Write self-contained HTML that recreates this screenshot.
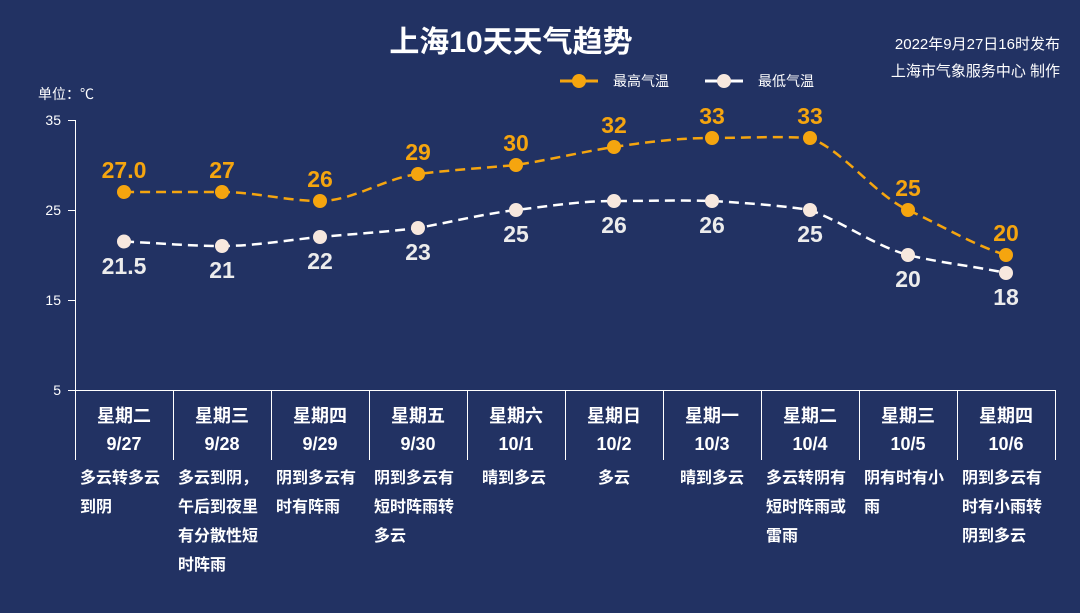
<!DOCTYPE html><html><head><meta charset="utf-8"><style>
body{margin:0;background:#223263;}
svg{display:block;font-family:"Liberation Sans","Noto Sans CJK SC",sans-serif;}
</style></head><body>
<svg width="1080" height="613" viewBox="0 0 1080 613">
<rect width="1080" height="613" fill="#223263"/>
<text x="511" y="52" text-anchor="middle" font-size="30" font-weight="bold" fill="#fff">上海10天天气趋势</text>
<text x="1060" y="49" text-anchor="end" font-size="15" fill="#fff">2022年9月27日16时发布</text>
<text x="1060" y="76" text-anchor="end" font-size="15" fill="#fff">上海市气象服务中心 制作</text>
<line x1="560" y1="81" x2="598" y2="81" stroke="#f5a50f" stroke-width="3"/><circle cx="579" cy="81" r="7" fill="#f5a50f"/>
<text x="613" y="86" font-size="14" fill="#fff">最高气温</text>
<line x1="705" y1="81" x2="743" y2="81" stroke="#fff" stroke-width="3"/><circle cx="724" cy="81" r="7" fill="#f7e8de"/>
<text x="758" y="86" font-size="14" fill="#fff">最低气温</text>
<text x="38" y="99" font-size="14" fill="#fff">单位：℃</text>
<g stroke="#fff" stroke-width="1">
<line x1="75.5" y1="120" x2="75.5" y2="460"/>
<line x1="68" y1="390.5" x2="1056" y2="390.5"/>
<line x1="68" y1="120.5" x2="75" y2="120.5"/><line x1="68" y1="210.5" x2="75" y2="210.5"/><line x1="68" y1="300.5" x2="75" y2="300.5"/>
<line x1="173.5" y1="390" x2="173.5" y2="460"/><line x1="271.5" y1="390" x2="271.5" y2="460"/><line x1="369.5" y1="390" x2="369.5" y2="460"/><line x1="467.5" y1="390" x2="467.5" y2="460"/><line x1="565.5" y1="390" x2="565.5" y2="460"/><line x1="663.5" y1="390" x2="663.5" y2="460"/><line x1="761.5" y1="390" x2="761.5" y2="460"/><line x1="859.5" y1="390" x2="859.5" y2="460"/><line x1="957.5" y1="390" x2="957.5" y2="460"/><line x1="1055.5" y1="390" x2="1055.5" y2="460"/>
</g>
<g font-size="14" fill="#fff" text-anchor="end">
<text x="61" y="125">35</text><text x="61" y="215">25</text><text x="61" y="305">15</text><text x="61" y="395">5</text>
</g>
<g font-size="18" font-weight="bold" fill="#fff" text-anchor="middle">
<text x="124" y="422">星期二</text><text x="124" y="450">9/27</text>
<text x="222" y="422">星期三</text><text x="222" y="450">9/28</text>
<text x="320" y="422">星期四</text><text x="320" y="450">9/29</text>
<text x="418" y="422">星期五</text><text x="418" y="450">9/30</text>
<text x="516" y="422">星期六</text><text x="516" y="450">10/1</text>
<text x="614" y="422">星期日</text><text x="614" y="450">10/2</text>
<text x="712" y="422">星期一</text><text x="712" y="450">10/3</text>
<text x="810" y="422">星期二</text><text x="810" y="450">10/4</text>
<text x="908" y="422">星期三</text><text x="908" y="450">10/5</text>
<text x="1006" y="422">星期四</text><text x="1006" y="450">10/6</text>
</g>
<g font-size="16" font-weight="bold" fill="#fff">
<text x="80" y="483">多云转多云</text><text x="80" y="512">到阴</text>
<text x="178" y="483">多云到阴，</text><text x="178" y="512">午后到夜里</text><text x="178" y="541">有分散性短</text><text x="178" y="570">时阵雨</text>
<text x="276" y="483">阴到多云有</text><text x="276" y="512">时有阵雨</text>
<text x="374" y="483">阴到多云有</text><text x="374" y="512">短时阵雨转</text><text x="374" y="541">多云</text>
<text x="482" y="483">晴到多云</text>
<text x="598" y="483">多云</text>
<text x="680" y="483">晴到多云</text>
<text x="766" y="483">多云转阴有</text><text x="766" y="512">短时阵雨或</text><text x="766" y="541">雷雨</text>
<text x="864" y="483">阴有时有小</text><text x="864" y="512">雨</text>
<text x="962" y="483">阴到多云有</text><text x="962" y="512">时有小雨转</text><text x="962" y="541">阴到多云</text>
</g>
<path d="M124,192 C157,192 189,192 222,192 C255,192 287,201 320,201 C353,201 385,178 418,174 C451,170 483,168 516,165 C549,160 581,152 614,147 C647,142 679,138 712,138 C745,138 777,136 810,138 C843,150 875,195 908,210 C941,225 973,245 1006,255" fill="none" stroke="#f5a50f" stroke-width="2.5" stroke-dasharray="10,6"/>
<path d="M124,241.5 C157,243 189,246 222,246 C255,246 287,240 320,237 C353,234 385,232 418,228 C451,222 483,214 516,210 C549,206 581,201 614,201 C647,201 679,200 712,201 C745,203 777,205 810,210 C843,222 875,246 908,255 C941,263 973,266 1006,273" fill="none" stroke="#fff" stroke-width="2.5" stroke-dasharray="10,6"/>
<g fill="#f5a50f"><circle cx="124" cy="192" r="7"/><circle cx="222" cy="192" r="7"/><circle cx="320" cy="201" r="7"/><circle cx="418" cy="174" r="7"/><circle cx="516" cy="165" r="7"/><circle cx="614" cy="147" r="7"/><circle cx="712" cy="138" r="7"/><circle cx="810" cy="138" r="7"/><circle cx="908" cy="210" r="7"/><circle cx="1006" cy="255" r="7"/></g>
<g fill="#f7e8de"><circle cx="124" cy="241.5" r="7"/><circle cx="222" cy="246" r="7"/><circle cx="320" cy="237" r="7"/><circle cx="418" cy="228" r="7"/><circle cx="516" cy="210" r="7"/><circle cx="614" cy="201" r="7"/><circle cx="712" cy="201" r="7"/><circle cx="810" cy="210" r="7"/><circle cx="908" cy="255" r="7"/><circle cx="1006" cy="273" r="7"/></g>
<g font-size="23" font-weight="bold" fill="#f5a50f" text-anchor="middle">
<text x="124" y="178">27.0</text><text x="222" y="178">27</text><text x="320" y="187">26</text><text x="418" y="160">29</text><text x="516" y="151">30</text><text x="614" y="133">32</text><text x="712" y="124">33</text><text x="810" y="124">33</text><text x="908" y="196">25</text><text x="1006" y="241">20</text>
</g>
<g font-size="23" font-weight="bold" fill="#ececec" text-anchor="middle">
<text x="124" y="274">21.5</text><text x="222" y="278">21</text><text x="320" y="269">22</text><text x="418" y="260">23</text><text x="516" y="242">25</text><text x="614" y="233">26</text><text x="712" y="233">26</text><text x="810" y="242">25</text><text x="908" y="287">20</text><text x="1006" y="305">18</text>
</g>
</svg>
</body></html>
